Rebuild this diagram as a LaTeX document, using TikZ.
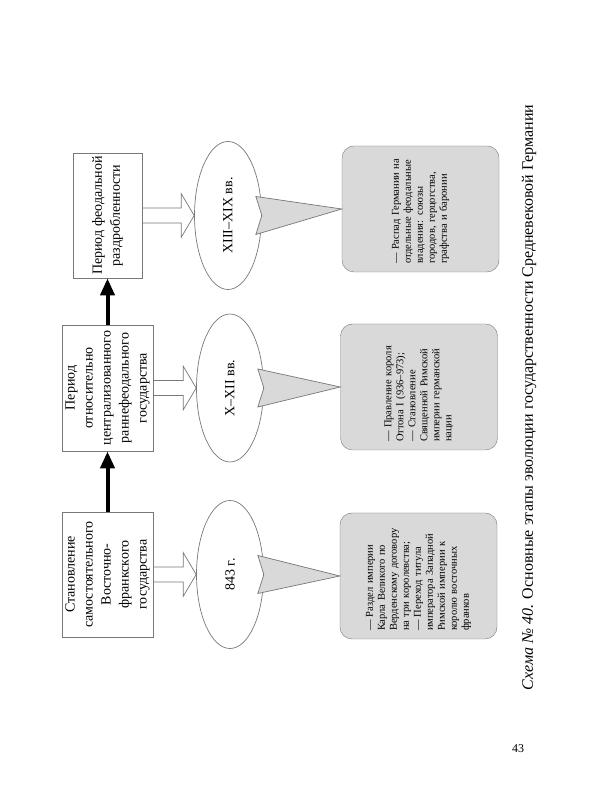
\documentclass[tikz,border=0pt]{standalone}
\usepackage{fontspec}
\setmainfont{Liberation Serif}
\usetikzlibrary{arrows.meta,calc,shapes.geometric}
\definecolor{evfill}{RGB}{217,217,217}
\definecolor{lineg}{RGB}{120,120,120}
\newcommand{\hollowarrow}[2]{\draw[hollowar] ($(#1.south)+(-7.5,0)$) -- ($(#2.north)+(-7.5,13)$) -- ($(#2.north)+(-22,13)$) -- (#2.north) -- ($(#2.north)+(22,13)$) -- ($(#2.north)+(7.5,13)$) -- ($(#1.south)+(7.5,0)$) -- cycle;}
\newcommand{\wedgearrow}[2]{\draw[wedgear] ($(#1.south)+(-19,6)$) -- (#1.south) -- ($(#1.south)+(19,6)$) -- (#2.north) -- cycle;}

\begin{document}
\begin{tikzpicture}[x=1pt,y=1pt,
  per/.style={draw=lineg,line width=0.8pt,align=center,inner sep=3pt,font=\fontsize{14}{18}\selectfont},
  dat/.style={ellipse,draw=lineg,line width=0.7pt,minimum width=148pt,minimum height=67pt,inner sep=0pt,font=\fontsize{14}{17}\selectfont},
  ev/.style={draw=lineg,fill=evfill,rounded corners=12pt,minimum width=126pt,minimum height=157pt,text width=110pt,align=left,font=\fontsize{10.5}{12}\selectfont},
  hollowar/.style={draw=lineg,fill=white,line width=0.7pt,line join=miter},
  wedgear/.style={draw=lineg,fill=evfill,line width=0.7pt},
  blk/.style={line width=4pt,-{Triangle[length=17pt,width=14pt]}}]
\fill[white] (0,0) rectangle (600,800);
\begin{scope}[shift={(600,0)},rotate=90,transform shape]
% periods
\node[per,minimum width=125pt,minimum height=91pt] (per1) at (225.5,492.5) {Становление\\самостоятельного\\Восточно-\\франкского\\государства};
\node[per,minimum width=126pt,minimum height=91pt] (per2) at (412,492.5) {Период\\относительно\\централизованного\\раннефеодального\\государства};
\node[per,minimum width=125pt,minimum height=69pt] (per3) at (584.5,492.5) {Период феодальной\\раздробленности};
\draw[blk] (per1.east) -- (per2.west);
\draw[blk] (per2.east) -- (per3.west);
% dates
\node[dat] (dat1) at (225.5,370) {843 г.};
\node[dat] (dat2) at (412,370) {X–XII вв.};
\node[dat] (dat3) at (584.5,372) {XIII–XIX вв.};
\hollowarrow{per1}{dat1}
\hollowarrow{per2}{dat2}
\hollowarrow{per3}{dat3}
% events
\node[ev] (ev1) at (224,181.5) {— Раздел империи\\Карла Великого по\\Верденскому договору\\на три королевства;\\— Переход титула\\императора Западной\\Римской империи к\\королю восточных\\франков};
\node[ev] (ev2) at (413,181) {— Правление короля\\Оттона I (936–973);\\— Становление\\Священной Римской\\империи германской\\нации};
\node[ev] (ev3) at (591,179.5) {— Распад Германии на\\отдельные феодальные\\владения: союзы\\городов, герцогства,\\графства и баронии};
\wedgearrow{dat1}{ev1}
\wedgearrow{dat2}{ev2}
\wedgearrow{dat3}{ev3}
\node[font=\fontsize{16}{19}\selectfont] (capt) at (402.5,71) {\textit{Схема № 40.} Основные этапы эволюции государственности Средневековой Германии};
\end{scope}
\node[font=\fontsize{12}{14}\selectfont] (pgno) at (518,51) {43};
\end{tikzpicture}
\end{document}
